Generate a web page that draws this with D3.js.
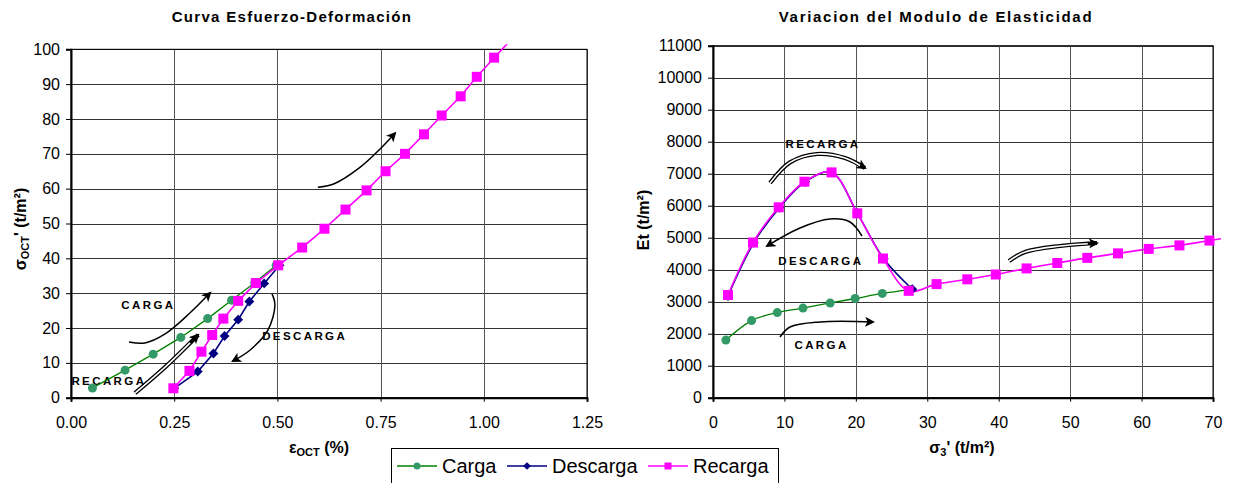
<!DOCTYPE html>
<html><head><meta charset="utf-8">
<script src="https://cdn.jsdelivr.net/npm/d3@7/dist/d3.min.js"></script>
<style>
body{margin:0;background:#fff;}
svg{display:block;font-family:"Liberation Sans",Arial,sans-serif;}
</style></head>
<body>
<svg id="c" width="1233" height="483"></svg>
<script>
// ---------- DATA ----------
// Left chart: Curva Esfuerzo-Deformación (eps_oct %, sigma_oct t/m2)
const leftCargaX = [0.052, 0.131, 0.199, 0.266, 0.331, 0.389, 0.445, 0.497];
const leftCargaY = [2.8, 7.9, 12.5, 17.3, 22.7, 28.0, 33.0, 38.0];
const leftDescargaX = [0.505, 0.468, 0.432, 0.405, 0.372, 0.345, 0.307, 0.250];
const leftDescargaY = [38.0, 32.8, 27.6, 22.4, 17.7, 12.7, 7.5, 2.7];
const leftRecargaX = [0.248, 0.287, 0.316, 0.342, 0.369, 0.405, 0.448, 0.502, 0.560, 0.614, 0.665, 0.716, 0.762, 0.809, 0.855, 0.898, 0.944, 0.983, 1.025, 1.068];
const leftRecargaY = [2.7, 7.7, 13.2, 18.0, 22.7, 27.8, 32.9, 38.0, 43.1, 48.5, 54.0, 59.5, 65.0, 70.0, 75.6, 81.0, 86.5, 92.1, 97.6, 103.0];
const leftXTicks = [0, 0.25, 0.5, 0.75, 1.0, 1.25];
const leftYTicks = [0, 10, 20, 30, 40, 50, 60, 70, 80, 90, 100];

// Right chart: Variacion del Modulo de Elasticidad (sigma3', Et)
const rightCargaX = [1.8, 5.4, 9.0, 12.6, 16.4, 19.9, 23.7, 27.6];
const rightCargaY = [1800, 2410, 2660, 2800, 2960, 3100, 3260, 3380];
const rightDescargaX = [27.9, 23.9, 20.2, 16.6, 12.9, 9.3, 5.7, 2.1];
const rightDescargaY = [3390, 4340, 5770, 7040, 6750, 5940, 4840, 3180];
const rightRecargaX = [2.1, 5.6, 9.2, 12.8, 16.6, 20.2, 23.8, 27.4, 31.3, 35.6, 39.6, 43.9, 48.2, 52.4, 56.7, 61.0, 65.3, 69.5, 73.8];
const rightRecargaY = [3210, 4850, 5950, 6750, 7040, 5760, 4350, 3340, 3550, 3700, 3850, 4040, 4210, 4370, 4510, 4650, 4760, 4910, 5060];
const rightXTicks = [0, 10, 20, 30, 40, 50, 60, 70];
const rightYTicks = [0, 1000, 2000, 3000, 4000, 5000, 6000, 7000, 8000, 9000, 10000, 11000];

// Annotation arrows (data coordinates)
const leftArrows = [
  {pts: [[0.598, 60.4], [0.639, 61.5], [0.700, 66.1], [0.748, 71.3], [0.785, 75.9]], dbl: false},
  {pts: [[0.1405, 16.0], [0.179, 15.7], [0.228, 18.3], [0.288, 24.3], [0.337, 30.1]], dbl: false},
  {pts: [[0.155, 1.3], [0.230, 9.0], [0.308, 18.0]], dbl: true},
  {pts: [[0.487, 29.8], [0.494, 26.6], [0.477, 19.4], [0.434, 13.7], [0.392, 10.5]], dbl: false}
];
const leftLabels = [
  {t: "CARGA", x: 0.122, y: 25.6},
  {t: "RECARGA", x: 0.001, y: 3.6},
  {t: "DESCARGA", x: 0.463, y: 16.6}
];
const rightArrows = [
  {pts: [[7.98, 6709], [10.78, 7353], [14.56, 7616], [18.48, 7491], [21.28, 7178]], dbl: true},
  {pts: [[20.86, 5053], [19.18, 5491], [16.38, 5584], [12.18, 5303], [7.56, 4741]], dbl: false},
  {pts: [[9.38, 1897], [10.78, 2209], [14.98, 2366], [22.4, 2366]], dbl: false},
  {pts: [[41.44, 4272], [43.68, 4553], [48.58, 4741], [53.76, 4834]], dbl: true}
];
const rightLabels = [
  {t: "RECARGA", x: 10.15, y: 7810},
  {t: "DESCARGA", x: 9.15, y: 4150},
  {t: "CARGA", x: 11.4, y: 1530}
];

const seriesNames = ["Carga", "Descarga", "Recarga"];
const lineColors = ["#008000", "#000080", "#ff00ff"];
const markerColors = ["#339966", "#000080", "#ff00ff"];

// ---------- DRAW ----------
const svg = d3.select("#c");
const defs = svg.append("defs");
defs.append("marker").attr("id", "ah").attr("viewBox", "0 0 10 10")
  .attr("refX", 8).attr("refY", 5).attr("markerWidth", 10).attr("markerHeight", 10)
  .attr("markerUnits", "userSpaceOnUse").attr("orient", "auto")
  .append("path").attr("d", "M0,0 L10,5 L0,10 L2.5,5 Z").attr("fill", "#000");

function zip(xs, ys) { return xs.map((x, i) => [x, ys[i]]); }

function marker(g, type, color, x, y, s) {
  if (type === 0) {
    g.append("circle").attr("cx", x).attr("cy", y).attr("r", s * 0.5).attr("fill", color);
  } else if (type === 1) {
    const h = s * 0.55;
    g.append("path").attr("d", `M${x},${y - h} L${x + h},${y} L${x},${y + h} L${x - h},${y} Z`).attr("fill", color);
  } else {
    g.append("rect").attr("x", x - s / 2).attr("y", y - s / 2).attr("width", s).attr("height", s).attr("fill", color);
  }
}

function chart(o) {
  const x = d3.scaleLinear().domain(o.xd).range(o.xr);
  const y = d3.scaleLinear().domain(o.yd).range(o.yr);
  const g = svg.append("g");
  const id = "clip" + o.key;
  defs.append("clipPath").attr("id", id).append("rect")
    .attr("x", o.xr[0]).attr("y", o.yr[1] - 5)
    .attr("width", o.xr[1] - o.xr[0] + 8).attr("height", o.yr[0] - o.yr[1] + 5);

  // gridlines
  g.append("g").selectAll("line").data(o.yt).join("line")
    .attr("x1", o.xr[0]).attr("x2", o.xr[1])
    .attr("y1", d => Math.round(y(d)) + 0.5).attr("y2", d => Math.round(y(d)) + 0.5)
    .attr("stroke", "#333").attr("stroke-width", 1);
  g.append("g").selectAll("line").data(o.xt).join("line")
    .attr("y1", o.yr[0]).attr("y2", o.yr[1])
    .attr("x1", d => Math.round(x(d)) + 0.5).attr("x2", d => Math.round(x(d)) + 0.5)
    .attr("stroke", "#555").attr("stroke-width", 1);
  g.append("rect").attr("x", o.xr[0]).attr("y", o.yr[1])
    .attr("width", o.xr[1] - o.xr[0]).attr("height", o.yr[0] - o.yr[1])
    .attr("fill", "none").attr("stroke", "#000").attr("stroke-width", 1);

  // axes
  const ax = g.append("g").attr("transform", `translate(0,${o.yr[0]})`)
    .call(d3.axisBottom(x).tickValues(o.xt).tickFormat(o.xf).tickSize(4).tickPadding(15));
  const ay = g.append("g").attr("transform", `translate(${o.xr[0]},0)`)
    .call(d3.axisLeft(y).tickValues(o.yt).tickFormat(o.yf).tickSize(5).tickPadding(6));
  [ax, ay].forEach(a => {
    a.select(".domain").attr("stroke", "#000").attr("stroke-width", 2);
    a.selectAll(".tick line").attr("stroke", "#000");
    a.selectAll("text").attr("fill", "#000").style("font-size", "16px")
      .style("font-family", '"Liberation Sans",Arial,sans-serif');
  });

  // arrows
  const al = d3.line().x(d => x(d[0])).y(d => y(d[1])).curve(d3.curveCatmullRom);
  const ag = g.append("g");
  o.arrows.forEach(a => {
    if (a.dbl) {
      ag.append("path").attr("d", al(a.pts)).attr("fill", "none").attr("stroke", "#000")
        .attr("stroke-width", 4.2).attr("marker-end", "url(#ah)");
      ag.append("path").attr("d", al(a.pts.slice(0, -1).concat([[
        a.pts[a.pts.length - 1][0] - (a.pts[a.pts.length - 1][0] - a.pts[a.pts.length - 2][0]) * 0.25,
        a.pts[a.pts.length - 1][1] - (a.pts[a.pts.length - 1][1] - a.pts[a.pts.length - 2][1]) * 0.25]])))
        .attr("fill", "none").attr("stroke", "#fff").attr("stroke-width", 1.6);
    } else {
      ag.append("path").attr("d", al(a.pts)).attr("fill", "none").attr("stroke", "#000")
        .attr("stroke-width", 1.5).attr("marker-end", "url(#ah)");
    }
  });
  ag.selectAll("text").data(o.labels).join("text")
    .attr("x", d => x(d.x)).attr("y", d => y(d.y))
    .attr("font-size", "11.5px").attr("font-weight", "bold").attr("letter-spacing", "2.4px")
    .attr("fill", "#000").text(d => d.t);

  // series
  const pl = g.append("g").attr("clip-path", `url(#${id})`);
  const ln = d3.line().x(d => x(d[0])).y(d => y(d[1]));
  if (o.smooth) ln.curve(d3.curveCatmullRom.alpha(0.5));
  o.series.forEach((s, i) => {
    pl.append("path").attr("d", ln(s)).attr("fill", "none")
      .attr("stroke", lineColors[i]).attr("stroke-width", i === 0 ? 1.3 : 1.6);
  });
  const ms = [9, 9, 10];
  o.series.forEach((s, i) => {
    s.filter(d => d[0] >= o.xd[0] && d[0] <= o.xd[1] && d[1] <= o.yd[1])
      .forEach(d => marker(pl, i, markerColors[i], x(d[0]), y(d[1]), ms[i]));
  });

  // title
  svg.append("text").attr("x", o.tx).attr("y", 22).attr("text-anchor", "middle")
    .attr("font-size", "15px").attr("font-weight", "bold").attr("letter-spacing", o.tls)
    .attr("fill", "#000").text(o.title);
  return {x, y};
}

chart({
  key: "L", xd: [0, 1.25], xr: [71, 587], yd: [0, 100], yr: [397.7, 49.3],
  xt: leftXTicks, yt: leftYTicks, xf: d3.format(".2f"), yf: d3.format("d"),
  series: [zip(leftCargaX, leftCargaY), zip(leftDescargaX, leftDescargaY), zip(leftRecargaX, leftRecargaY)],
  arrows: leftArrows, labels: leftLabels, smooth: false,
  title: "Curva Esfuerzo-Deformación", tx: 292, tls: "1.3px"
});
chart({
  key: "R", xd: [0, 70], xr: [713, 1213], yd: [0, 11000], yr: [397.7, 45.7],
  xt: rightXTicks, yt: rightYTicks, xf: d3.format("d"), yf: d3.format("d"),
  series: [zip(rightCargaX, rightCargaY), zip(rightDescargaX, rightDescargaY), zip(rightRecargaX, rightRecargaY)],
  arrows: rightArrows, labels: rightLabels, smooth: true,
  title: "Variacion del Modulo de Elasticidad", tx: 936, tls: "1.7px"
});

// axis titles
const lx = svg.append("text").attr("x", 319).attr("y", 453).attr("text-anchor", "middle")
  .attr("font-size", "16px").attr("font-weight", "bold").attr("fill", "#000");
lx.append("tspan").text("ε");
lx.append("tspan").attr("font-size", "11px").attr("dy", 3).text("OCT");
lx.append("tspan").attr("dy", -3).text(" (%)");

const ly = svg.append("text").attr("transform", "translate(26,229) rotate(-90)").attr("text-anchor", "middle")
  .attr("font-size", "16px").attr("font-weight", "bold").attr("fill", "#000");
ly.append("tspan").text("σ");
ly.append("tspan").attr("font-size", "11px").attr("dy", 3).text("OCT");
ly.append("tspan").attr("dy", -3).text("' (t/m²)");

const rx = svg.append("text").attr("x", 962).attr("y", 453).attr("text-anchor", "middle")
  .attr("font-size", "16px").attr("font-weight", "bold").attr("fill", "#000");
rx.append("tspan").text("σ");
rx.append("tspan").attr("font-size", "11px").attr("dy", 3).text("3");
rx.append("tspan").attr("dy", -3).text("' (t/m²)");

svg.append("text").attr("transform", "translate(649,220) rotate(-90)").attr("text-anchor", "middle")
  .attr("font-size", "16px").attr("font-weight", "bold").attr("fill", "#000").text("Et  (t/m²)");

// legend
const lg = svg.append("g");
lg.append("rect").attr("x", 391.5).attr("y", 448.5).attr("width", 387).attr("height", 45)
  .attr("fill", "#fff").attr("stroke", "#000").attr("stroke-width", 1);
const legX = [397, 507, 648];
seriesNames.forEach((n, i) => {
  lg.append("line").attr("x1", legX[i]).attr("x2", legX[i] + 40).attr("y1", 466).attr("y2", 466)
    .attr("stroke", lineColors[i]).attr("stroke-width", 1.5);
  marker(lg, i, markerColors[i], legX[i] + 20, 466, 7);
  lg.append("text").attr("x", legX[i] + 45).attr("y", 473).attr("font-size", "20px")
    .attr("fill", "#000").text(n);
});
</script>
</body></html>
